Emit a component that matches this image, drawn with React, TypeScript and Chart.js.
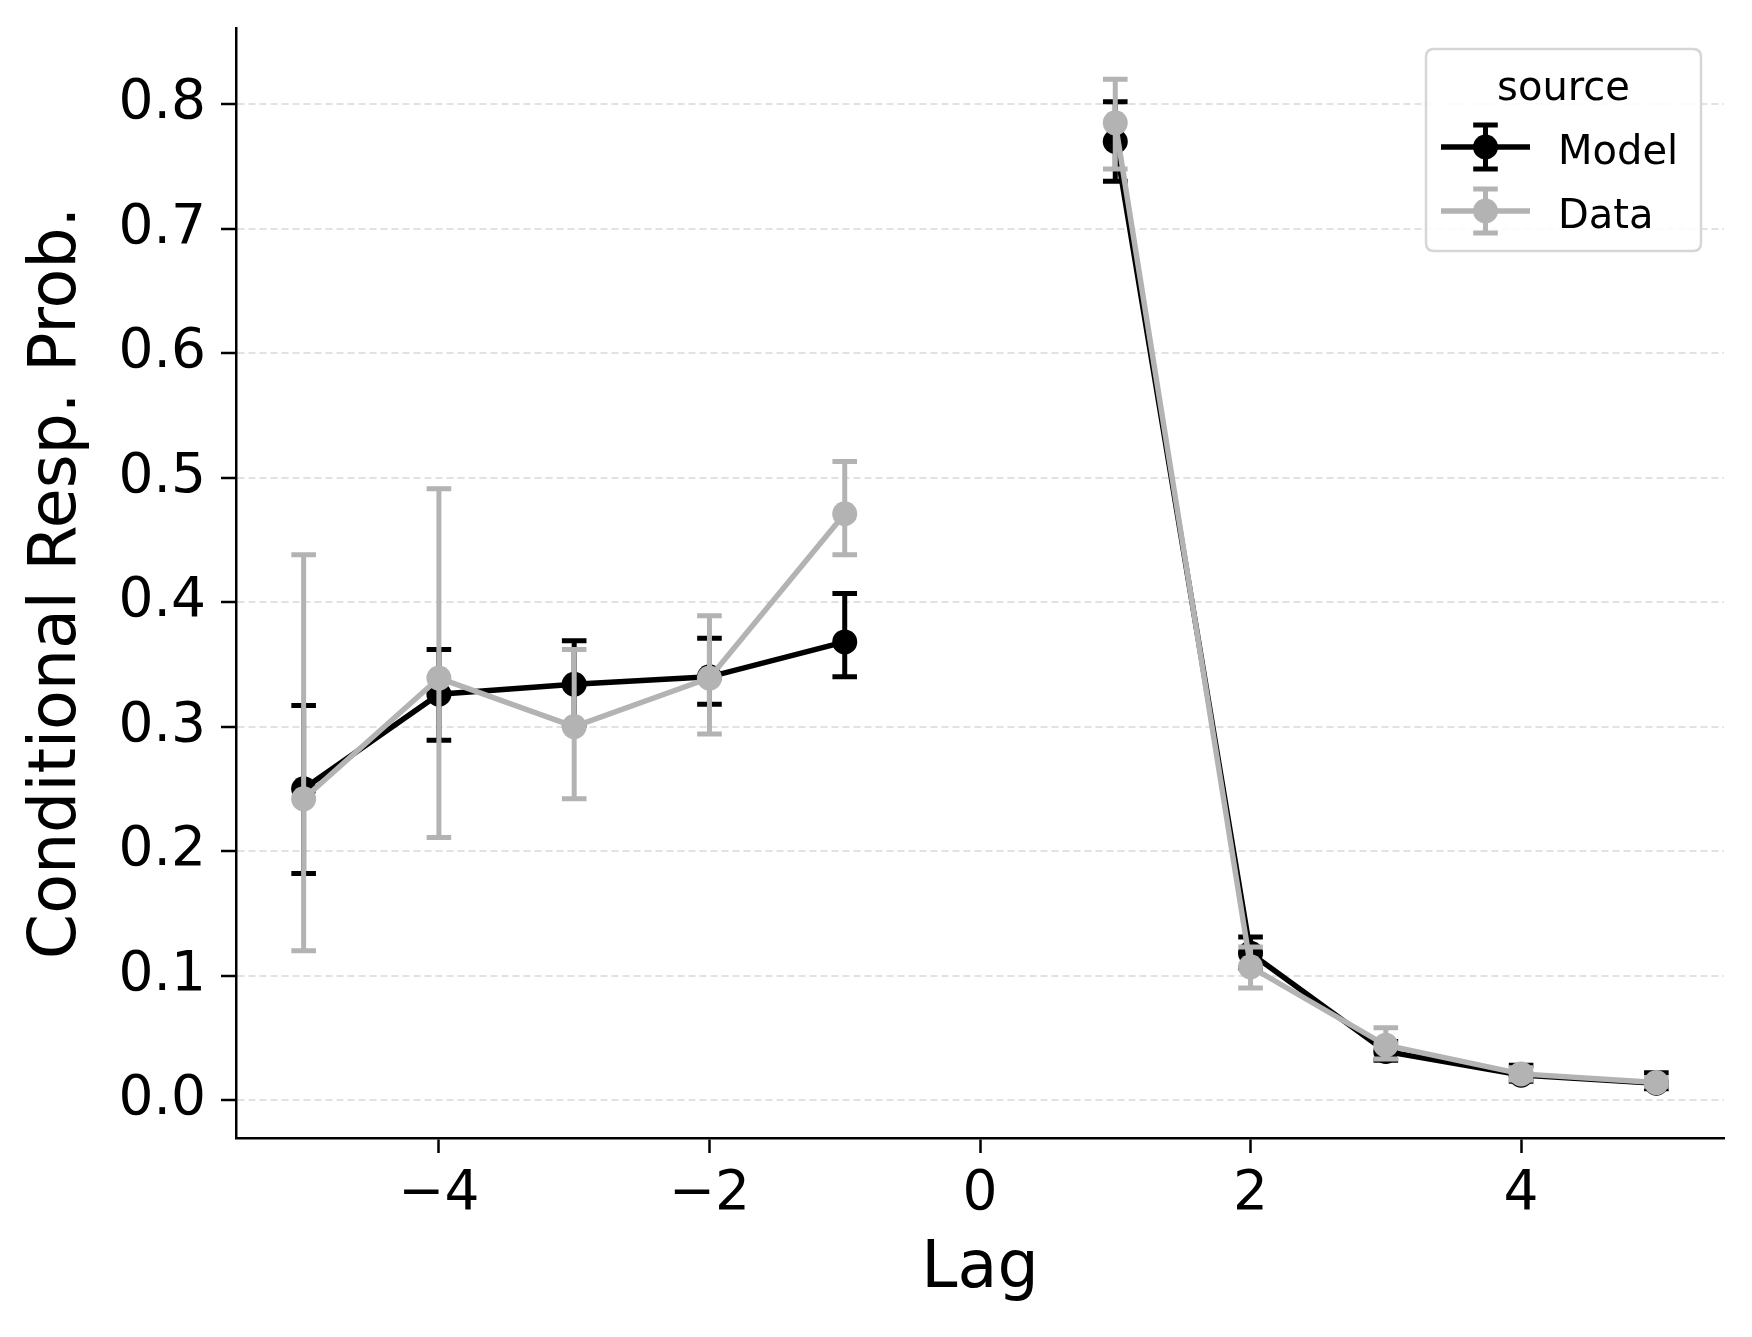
import React, { useEffect, useRef } from "react";
import { Chart, registerables } from "chart.js";

Chart.register(...registerables);

// ---- data ----
const lags: number[] = [-5, -4, -3, -2, -1, 0, 1, 2, 3, 4, 5];
const xTickValues: number[] = [-4, -2, 0, 2, 4];
const yTickValues: number[] = [0.0, 0.1, 0.2, 0.3, 0.4, 0.5, 0.6, 0.7, 0.8];

const modelMean: (number | null)[] = [0.25, 0.326, 0.334, 0.34, 0.368, null, 0.77, 0.118, 0.039, 0.02, 0.0135];
const modelLow: (number | null)[] = [0.182, 0.289, 0.301, 0.318, 0.34, null, 0.738, 0.106, 0.032, 0.015, 0.009];
const modelHigh: (number | null)[] = [0.317, 0.362, 0.369, 0.371, 0.407, null, 0.802, 0.131, 0.047, 0.028, 0.022];

const dataMean: (number | null)[] = [0.242, 0.339, 0.3, 0.339, 0.471, null, 0.785, 0.107, 0.044, 0.021, 0.014];
const dataLow: (number | null)[] = [0.12, 0.211, 0.242, 0.294, 0.438, null, 0.748, 0.09, 0.033, 0.016, 0.011];
const dataHigh: (number | null)[] = [0.438, 0.491, 0.362, 0.389, 0.513, null, 0.82, 0.123, 0.058, 0.026, 0.018];

const seriesNames = ["Model", "Data"];
const legendTitle = "source";

// ---- styles ----
const FONT = "DejaVu Sans";
const BLACK = "#000000";
const GRAY = "#b3b3b3";
const LINE_W = 5.5;
const BAR_W = 5;
const CAP_HALF = 12.3;
const POINT_R = 12.5;

type Series = { color: string; low: (number | null)[]; high: (number | null)[] };
const seriesList: Series[] = [
  { color: BLACK, low: modelLow, high: modelHigh },
  { color: GRAY, low: dataLow, high: dataHigh },
];

// error bars drawn right after their own series (line + markers), like matplotlib's order
const errorBarPlugin = {
  id: "errorBars",
  afterDatasetDraw(chart: any, args: any) {
    const s = seriesList[args.index];
    if (!s) return;
    const { ctx, scales } = chart;
    const xs = scales.x, ys = scales.y;
    ctx.save();
    ctx.lineCap = "butt";
    ctx.strokeStyle = s.color;
    ctx.lineWidth = BAR_W;
    lags.forEach((lag, i) => {
      const lo = s.low[i], hi = s.high[i];
      if (lo == null || hi == null) return;
      const px = xs.getPixelForValue(lag);
      const pLo = ys.getPixelForValue(lo);
      const pHi = ys.getPixelForValue(hi);
      ctx.beginPath();
      ctx.moveTo(px, pLo);
      ctx.lineTo(px, pHi);
      ctx.moveTo(px - CAP_HALF, pLo);
      ctx.lineTo(px + CAP_HALF, pLo);
      ctx.moveTo(px - CAP_HALF, pHi);
      ctx.lineTo(px + CAP_HALF, pHi);
      ctx.stroke();
    });
    ctx.restore();
  },
};

function roundRect(ctx: CanvasRenderingContext2D, x: number, y: number, w: number, h: number, r: number) {
  ctx.beginPath();
  ctx.moveTo(x + r, y);
  ctx.lineTo(x + w - r, y);
  ctx.quadraticCurveTo(x + w, y, x + w, y + r);
  ctx.lineTo(x + w, y + h - r);
  ctx.quadraticCurveTo(x + w, y + h, x + w - r, y + h);
  ctx.lineTo(x + r, y + h);
  ctx.quadraticCurveTo(x, y + h, x, y + h - r);
  ctx.lineTo(x, y + r);
  ctx.quadraticCurveTo(x, y, x + r, y);
  ctx.closePath();
}

const legendPlugin = {
  id: "customLegend",
  afterDraw(chart: any) {
    const { ctx, chartArea } = chart;
    const boxW = 275, boxH = 202;
    const bx = chartArea.right - 23 - boxW;
    const by = chartArea.top + 21;
    ctx.save();
    roundRect(ctx, bx, by, boxW, boxH, 8);
    ctx.fillStyle = "rgba(255,255,255,0.85)";
    ctx.fill();
    ctx.strokeStyle = "#d6d6d6";
    ctx.lineWidth = 2.5;
    ctx.stroke();

    ctx.fillStyle = "#000";
    ctx.font = `40px "${FONT}"`;
    ctx.textAlign = "center";
    ctx.textBaseline = "alphabetic";
    ctx.fillText(legendTitle, bx + boxW / 2, by + 51);

    const rowsY = [by + 98, by + 162];
    seriesNames.forEach((name, i) => {
      const color = seriesList[i].color;
      const cy = rowsY[i];
      const x1 = bx + 15, x2 = bx + 104, cx = (x1 + x2) / 2;
      ctx.strokeStyle = color;
      ctx.lineCap = "butt";
      ctx.lineWidth = LINE_W;
      ctx.beginPath();
      ctx.moveTo(x1, cy);
      ctx.lineTo(x2, cy);
      ctx.stroke();
      ctx.lineWidth = BAR_W;
      ctx.beginPath();
      ctx.moveTo(cx, cy - 22);
      ctx.lineTo(cx, cy + 22);
      ctx.moveTo(cx - CAP_HALF, cy - 22);
      ctx.lineTo(cx + CAP_HALF, cy - 22);
      ctx.moveTo(cx - CAP_HALF, cy + 22);
      ctx.lineTo(cx + CAP_HALF, cy + 22);
      ctx.stroke();
      ctx.fillStyle = color;
      ctx.beginPath();
      ctx.arc(cx, cy, POINT_R, 0, Math.PI * 2);
      ctx.fill();
      ctx.fillStyle = "#000";
      ctx.textAlign = "left";
      ctx.textBaseline = "alphabetic";
      ctx.fillText(name, bx + 132, cy + 17);
    });
    ctx.restore();
  },
};

export default function App() {
  const canvasRef = useRef<HTMLCanvasElement | null>(null);

  useEffect(() => {
    document.body.style.margin = "0";
    const canvas = canvasRef.current;
    if (!canvas) return;
    Chart.defaults.font.family = FONT;

    const chart = new Chart(canvas, {
      type: "line",
      data: {
        datasets: [
          {
            label: seriesNames[0],
            data: lags.map((x, i) => ({ x, y: modelMean[i] })) as any,
            borderColor: BLACK,
            backgroundColor: BLACK,
            pointBackgroundColor: BLACK,
            pointBorderWidth: 0,
            pointRadius: POINT_R,
            borderWidth: LINE_W,
            tension: 0,
            spanGaps: false,
            order: 1,
          },
          {
            label: seriesNames[1],
            data: lags.map((x, i) => ({ x, y: dataMean[i] })) as any,
            borderColor: GRAY,
            backgroundColor: GRAY,
            pointBackgroundColor: GRAY,
            pointBorderWidth: 0,
            pointRadius: POINT_R,
            borderWidth: LINE_W,
            tension: 0,
            spanGaps: false,
            order: 0,
          },
        ],
      },
      options: {
        responsive: false,
        animation: false,
        devicePixelRatio: 1,
        layout: { padding: { top: 28, right: 28, left: 0, bottom: 0 } },
        plugins: {
          legend: { display: false },
          tooltip: { enabled: false },
        },
        scales: {
          x: {
            type: "linear",
            min: -5.5,
            max: 5.5,
            afterBuildTicks: (s: any) => {
              s.ticks = xTickValues.map((v) => ({ value: v }));
            },
            afterFit: (s: any) => {
              s.height = 199;
              s.paddingLeft = 0;
              s.paddingRight = 0;
            },
            ticks: {
              callback: (v: any) => (Number(v) < 0 ? "\u2212" + Math.abs(Number(v)) : String(v)),
              font: { family: FONT, size: 55 },
              color: "#000",
              padding: 9,
              maxRotation: 0,
              autoSkip: false,
            },
            grid: {
              display: true,
              drawOnChartArea: false,
              drawTicks: true,
              tickLength: 15,
              tickColor: "#000",
              tickWidth: 2.5,
            },
            border: { display: true, color: "#000", width: 2.5 },
            title: {
              display: true,
              text: "Lag",
              color: "#000",
              font: { family: FONT, size: 65 },
              padding: { top: 0, bottom: 28 },
            },
          },
          y: {
            type: "linear",
            min: -0.0305,
            max: 0.8612,
            afterBuildTicks: (s: any) => {
              s.ticks = yTickValues.map((v) => ({ value: v }));
            },
            afterFit: (s: any) => {
              s.width = 236;
              s.paddingTop = 0;
              s.paddingBottom = 0;
            },
            ticks: {
              callback: (v: any) => Number(v).toFixed(1),
              font: { family: FONT, size: 55 },
              color: "#000",
              padding: 15,
              autoSkip: false,
            },
            grid: {
              display: true,
              drawOnChartArea: true,
              color: "#e2e2e2",
              lineWidth: 2,
              drawTicks: true,
              tickLength: 15,
              tickColor: "#000",
              tickWidth: 2.5,
              tickBorderDash: [],
            },
            border: { display: true, color: "#000", width: 2.5, dash: [7, 4] },
            title: {
              display: true,
              text: "Conditional Resp. Prob.",
              color: "#000",
              font: { family: FONT, size: 65 },
              padding: { top: 19, bottom: 0 },
            },
          },
        },
      } as any,
      plugins: [errorBarPlugin, legendPlugin],
    });

    return () => {
      chart.destroy();
    };
  }, []);

  return (
    <div style={{ width: 1752, height: 1337, background: "#fff" }}>
      <canvas ref={canvasRef} width={1752} height={1337} style={{ display: "block" }} />
    </div>
  );
}
